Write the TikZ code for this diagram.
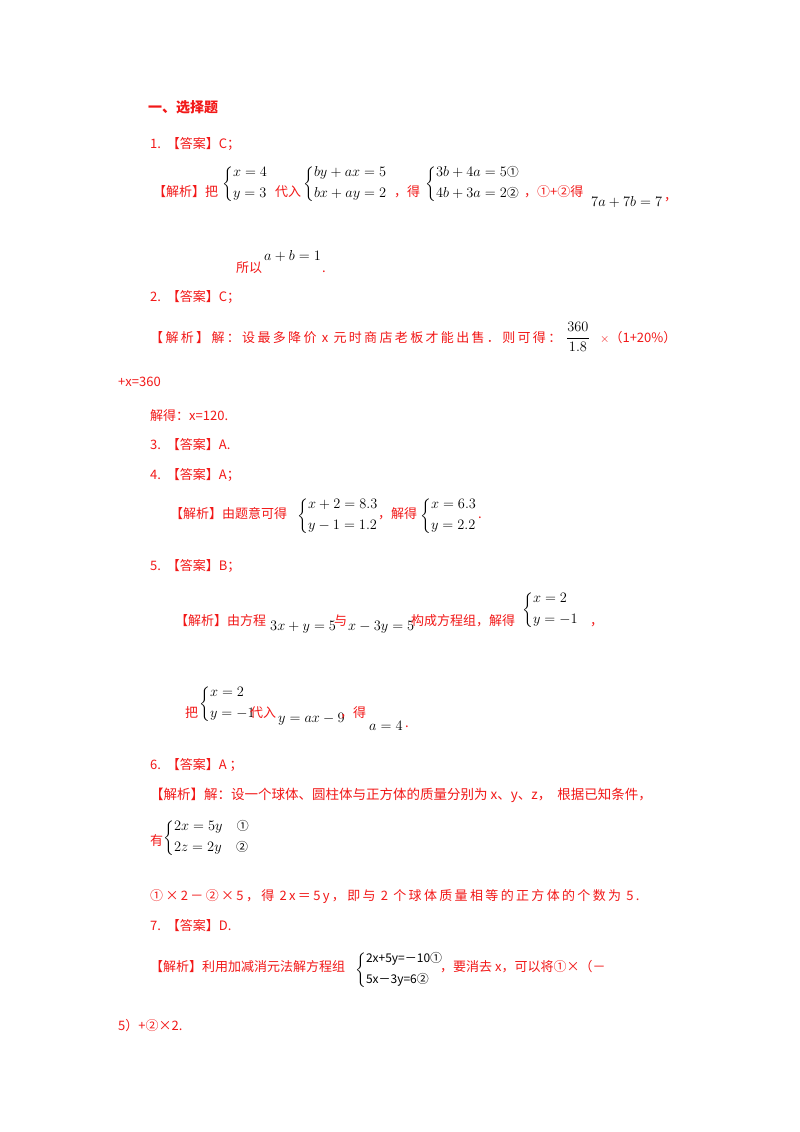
\documentclass[tikz,border=0pt]{standalone}
\usepackage{amsmath}
\usepackage{fontspec}
\newfontfamily\cjk{Noto Sans CJK SC}
\newfontfamily\cjkw[LetterSpace=18]{Noto Sans CJK SC}
\definecolor{rd}{HTML}{F21818}
\newcommand{\sys}[2]{$\left\{\begin{array}{@{}l@{}}#1\\[5pt]#2\end{array}\right.$}
\newcommand{\cn}[1]{\text{\cjk\fontsize{12}{12}\selectfont #1}}
\begin{document}
\begin{tikzpicture}[x=1pt,y=-1pt,
  t/.style={anchor=base west,inner sep=0pt,text=rd,font=\cjk\fontsize{13}{15}\selectfont},
  m/.style={anchor=base west,inner sep=0pt,text=black,font=\fontsize{15}{17}\selectfont},
  s/.style={anchor=west,inner sep=0pt,text=black,font=\fontsize{14.5}{16}\selectfont}]
\useasboundingbox[fill=white] (0,0) rectangle (800,1132);
\node[t,font=\cjk\bfseries\fontsize{14}{16}\selectfont] (h) at (148,112) {一、选择题};
\node[t] (a1) at (150,148) {1.\ \ 【答案】C；};
\node[t] (j1) at (153,196) {【解析】把};
\node[s] (s1) at (222,184) {\sys{x=4}{y=3}};
\node[t] (d1) at (275,196) {代入};
\node[s] (s2) at (303,184) {\sys{by+ax=5}{bx+ay=2}};
\node[t] (g1) at (394,196) {，得};
\node[s] (s3) at (425,184) {\sys{3b+4a=5\cn{①}}{4b+3a=2\cn{②}}};
\node[t] (g2) at (524,196) {，①+②得};
\node[m] (e1) at (591,206) {$7a+7b=7$};
\node[t] (c1) at (664,200) {，};
\node[t] (sy) at (236,272) {所以};
\node[m] (e2) at (264,260) {$a+b=1$};
\node[t] (p1) at (322,272) {.};
\node[t] (a2) at (150,301) {2.\ \ 【答案】C；};
\node[t,font=\cjkw\fontsize{13}{15}\selectfont] (j2) at (150,342) {【解析】解：设最多降价 x 元时商店老板才能出售．则可得：};
\node[s] (f2) at (566,337) {$\dfrac{360}{1.8}$};
\node[t] (f3) at (600,342) {$\times$（1+20\%）};
\node[t] (l2) at (118,386) {+x=360};
\node[t] (r2) at (150,420) {解得：x=120.};
\node[t] (a3) at (150,449) {3.\ \ 【答案】A.};
\node[t] (a4) at (150,479) {4.\ \ 【答案】A；};
\node[t] (j4) at (170,518) {【解析】由题意可得};
\node[s] (s4) at (297,516) {\sys{x+2=8.3}{y-1=1.2}};
\node[t] (g4) at (378,518) {，解得};
\node[s] (s5) at (420,516) {\sys{x=6.3}{y=2.2}};
\node[t] (p4) at (478,518) {.};
\node[t] (a5) at (150,570) {5.\ \ 【答案】B；};
\node[t] (j5) at (175,625) {【解析】由方程};
\node[m] (e5) at (270,630) {$3x+y=5$};
\node[t] (y5) at (334,625) {与};
\node[m] (e6) at (348,630) {$x-3y=5$};
\node[t] (g5) at (411,625) {构成方程组，解得};
\node[s] (s6) at (522,610) {\sys{x=2}{y=-1}};
\node[t] (c5) at (590,625) {，};
\node[t] (b5) at (185,717) {把};
\node[s] (s7) at (199,704) {\sys{x=2}{y=-1}};
\node[t] (d5) at (250,717) {代入};
\node[m] (e7) at (278,722) {$y=ax-9$};
\node[t] (g6) at (340,717) {，得};
\node[m] (e8) at (369,730) {$a=4$};
\node[t] (p5) at (405,727) {.};
\node[t] (a6) at (150,769) {6.\ \ 【答案】A ；};
\node[t,font=\cjk\fontsize{13.5}{15}\selectfont] (j6) at (150,799) {【解析】解：设一个球体、圆柱体与正方体的质量分别为 x、y、z，\ \ 根据已知条件，};
\node[t] (y6) at (150,845) {有};
\node[s] (s8) at (163,838) {\sys{2x=5y\quad\cn{①}}{2z=2y\quad\cn{②}}};
\node[t,font=\cjkw\fontsize{13}{15}\selectfont] (r6) at (150,900) {①×2－②×5，得 2x＝5y，即与 2 个球体质量相等的正方体的个数为 5.};
\node[t] (a7) at (150,930) {7.\ \ 【答案】D.};
\node[t] (j7) at (150,971) {【解析】利用加减消元法解方程组};
\node[s] (s9) at (355,970) {\sys{\cn{2x+5y=－10①}}{\cn{5x－3y=6②}}};
\node[t] (g7) at (440,971) {，要消去 x，可以将①×（－};
\node[t] (l7) at (118,1030) {5）+②×2.};
\end{tikzpicture}
\end{document}
